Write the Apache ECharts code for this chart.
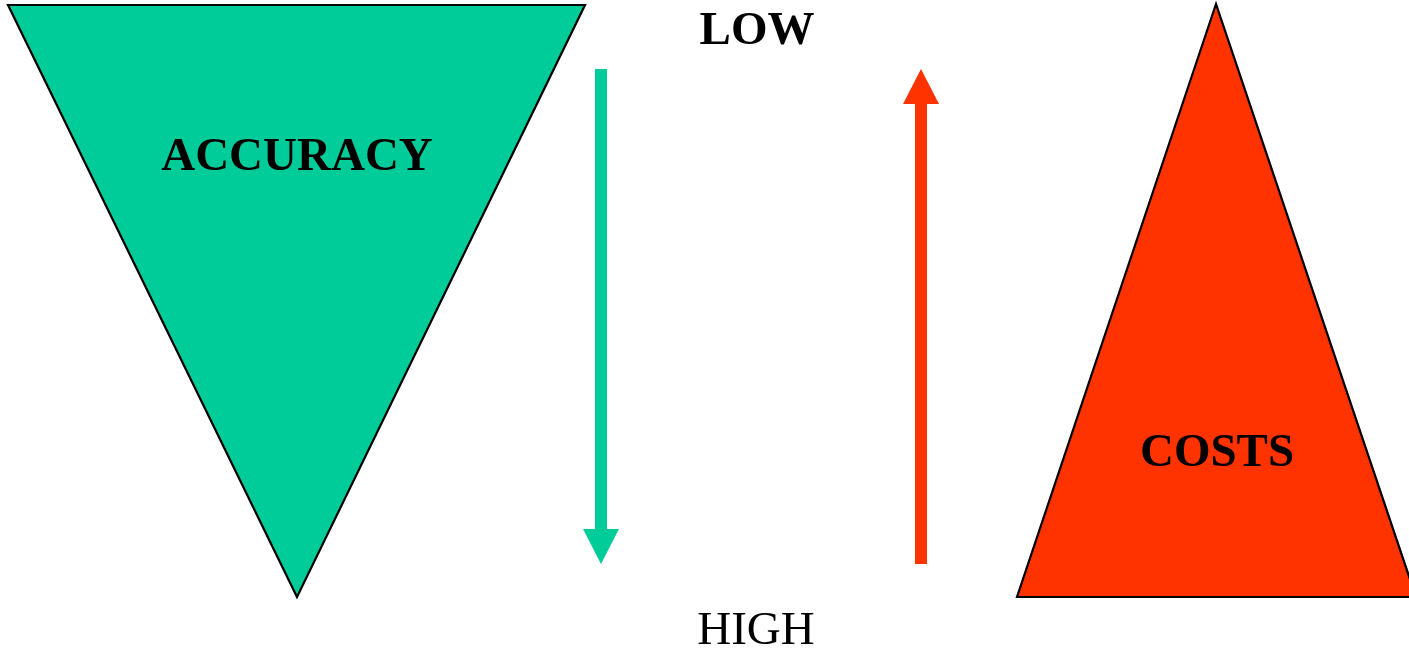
<!DOCTYPE html>
<html>
<head>
<meta charset="utf-8">
<title>Accuracy vs Costs</title>
<script src="https://cdn.jsdelivr.net/npm/echarts@6/dist/echarts.min.js"></script>
<style>
  html, body { margin: 0; padding: 0; background: #ffffff; }
  #chart { width: 1409px; height: 649px; }
</style>
</head>
<body>
<div id="chart"></div>
<script>
// Diagram space: x 0..1409, y 0..649 (y grows downward)
const accuracyTriangle = [[8, 5], [585, 5], [297, 597]];
const costsTriangle = [[1216, 4], [1017, 597], [1416, 597]];

// Arrows: [tail, tip]
const accuracyArrow = [[601, 69], [601, 564]];
const costsArrow = [[921, 564], [921, 69]];

// Labels and their anchor points
const labelTexts = ['LOW', 'HIGH', 'ACCURACY', 'COSTS'];
const labelPoints = [[757, 32], [756, 632], [297, 158], [1217, 454]];
const labelBold = [true, false, true, true];

const GREEN = '#00CC99';
const RED = '#FF3300';
const FONT = '"Liberation Serif", "Times New Roman", serif';

function triangleSeries(vertices, color) {
  return {
    type: 'custom',
    coordinateSystem: 'cartesian2d',
    data: [vertices[0]],
    renderItem: function (params, api) {
      return {
        type: 'polygon',
        shape: { points: vertices.map(v => api.coord(v)) },
        style: { fill: color, stroke: '#000000', lineWidth: 2.2, lineJoin: 'miter' }
      };
    },
    silent: true
  };
}

function arrowSeries(ends, color) {
  const shaftHalf = 6, headHalf = 18, headLen = 35;
  return {
    type: 'custom',
    coordinateSystem: 'cartesian2d',
    data: [ends[0]],
    renderItem: function (params, api) {
      const a = api.coord(ends[0]);
      const b = api.coord(ends[1]);
      const dx = b[0] - a[0], dy = b[1] - a[1];
      const len = Math.sqrt(dx * dx + dy * dy);
      const ux = dx / len, uy = dy / len;
      const nx = -uy, ny = ux;
      const bx = b[0] - ux * headLen, by = b[1] - uy * headLen;
      const pts = [
        [a[0] + nx * shaftHalf, a[1] + ny * shaftHalf],
        [bx + nx * shaftHalf, by + ny * shaftHalf],
        [bx + nx * headHalf, by + ny * headHalf],
        [b[0], b[1]],
        [bx - nx * headHalf, by - ny * headHalf],
        [bx - nx * shaftHalf, by - ny * shaftHalf],
        [a[0] - nx * shaftHalf, a[1] - ny * shaftHalf]
      ];
      return { type: 'polygon', shape: { points: pts }, style: { fill: color } };
    },
    silent: true
  };
}

const labelSeries = {
  type: 'custom',
  coordinateSystem: 'cartesian2d',
  data: labelPoints.map((p, i) => [p[0], p[1], i]),
  renderItem: function (params, api) {
    const i = api.value(2);
    const c = api.coord([api.value(0), api.value(1)]);
    return {
      type: 'text',
      x: c[0],
      y: c[1],
      style: {
        text: labelTexts[i],
        fill: '#000000',
        font: (labelBold[i] ? 'bold ' : '') + '47px ' + FONT,
        align: 'center',
        verticalAlign: 'middle'
      }
    };
  },
  silent: true,
  z: 10
};

const chart = echarts.init(document.getElementById('chart'));
chart.setOption({
  animation: false,
  backgroundColor: '#ffffff',
  grid: { left: 0, right: 0, top: 0, bottom: 0 },
  xAxis: { type: 'value', min: 0, max: 1409, show: false },
  yAxis: { type: 'value', min: 0, max: 649, inverse: true, show: false },
  series: [
    triangleSeries(accuracyTriangle, GREEN),
    triangleSeries(costsTriangle, RED),
    arrowSeries(accuracyArrow, GREEN),
    arrowSeries(costsArrow, RED),
    labelSeries
  ]
});
</script>
</body>
</html>
